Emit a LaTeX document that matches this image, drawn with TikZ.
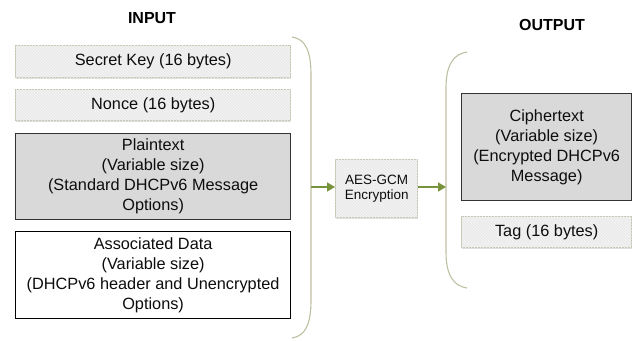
\documentclass[tikz,border=0pt]{standalone}
\usepackage{fontspec}
\setmainfont{Liberation Sans}
\usetikzlibrary{patterns,arrows.meta,shadows}
\definecolor{lightfill}{HTML}{EBEBEB}
\definecolor{hatch}{HTML}{F5F5F5}
\definecolor{lightedge}{HTML}{C3C6B0}
\definecolor{darkfill}{HTML}{D9D9D9}
\definecolor{bracecol}{HTML}{BFC0A2}
\definecolor{arrowgreen}{HTML}{77933C}
\tikzset{
  x=1pt, y=-1pt,
  txt/.style={font=\fontsize{16.3}{20}\selectfont, align=center, text=black!95},
  lightbox/.style={txt, draw=lightedge, line width=1.4pt, fill=lightfill,
    postaction={pattern=north west lines, pattern color=hatch},
    drop shadow={shadow xshift=0.6pt, shadow yshift=-1.6pt, opacity=0.25},
    inner sep=0pt, anchor=north west},
  darkbox/.style={txt, draw=black!80, line width=1.3pt, fill=darkfill,
    inner sep=0pt, anchor=north west},
  whitebox/.style={txt, draw=black, line width=1.2pt, fill=white,
    inner sep=0pt, anchor=north west},
  title/.style={font=\fontsize{16}{19}\selectfont\bfseries},
  brace/.style={draw=bracecol, line width=1.1pt},
  flow/.style={draw=arrowgreen, line width=1.4pt,
    -{Triangle[length=8pt,width=9pt]}}
}
\begin{document}
\begin{tikzpicture}
\useasboundingbox[fill=white] (0,0) rectangle (639,340);

% titles
\node[title] (tin) at (152,18) {INPUT};
\node[title] (tout) at (552,25) {OUTPUT};

% input blocks
\node[lightbox, minimum width=275pt, minimum height=32pt] (key) at (15,45) {Secret Key (16 bytes)};
\node[lightbox, minimum width=275pt, minimum height=31pt] (nonce) at (15,89) {Nonce (16 bytes)};
\node[darkbox, minimum width=275pt, minimum height=86pt] (plain) at (15,133)
  {Plaintext\\(Variable size)\\(Standard DHCPv6 Message\\Options)};
\node[whitebox, minimum width=275pt, minimum height=87pt] (assoc) at (15,231)
  {Associated Data\\(Variable size)\\(DHCPv6 header and Unencrypted\\Options)};

% input brace
\draw[brace] (292,37) .. controls (305,39) and (311,50) .. (311,75)
  -- (311,300) .. controls (311,325) and (305,336) .. (292,338);
\coordinate (inbrace) at (311,187);

% cipher block
\node[lightbox, font=\fontsize{13.5}{15.5}\selectfont, minimum width=82pt, minimum height=58pt] (aes) at (335,159)
  {AES-GCM\\Encryption};

% output brace
\draw[brace] (467,52) .. controls (454,54) and (446,64) .. (446,88)
  -- (446,252) .. controls (446,276) and (454,286) .. (467,288);
\coordinate (outbrace) at (446,187);

% output blocks
\node[darkbox, minimum width=170pt, minimum height=107pt] (cipher) at (461,93)
  {Ciphertext\\(Variable size)\\(Encrypted DHCPv6\\Message)};
\node[lightbox, minimum width=170pt, minimum height=31pt] (tag) at (461,216) {Tag (16 bytes)};

% flow
\draw[flow] (inbrace) -- (aes.west |- inbrace);
\draw[flow] (aes.east |- outbrace) -- (outbrace);
\end{tikzpicture}
\end{document}
